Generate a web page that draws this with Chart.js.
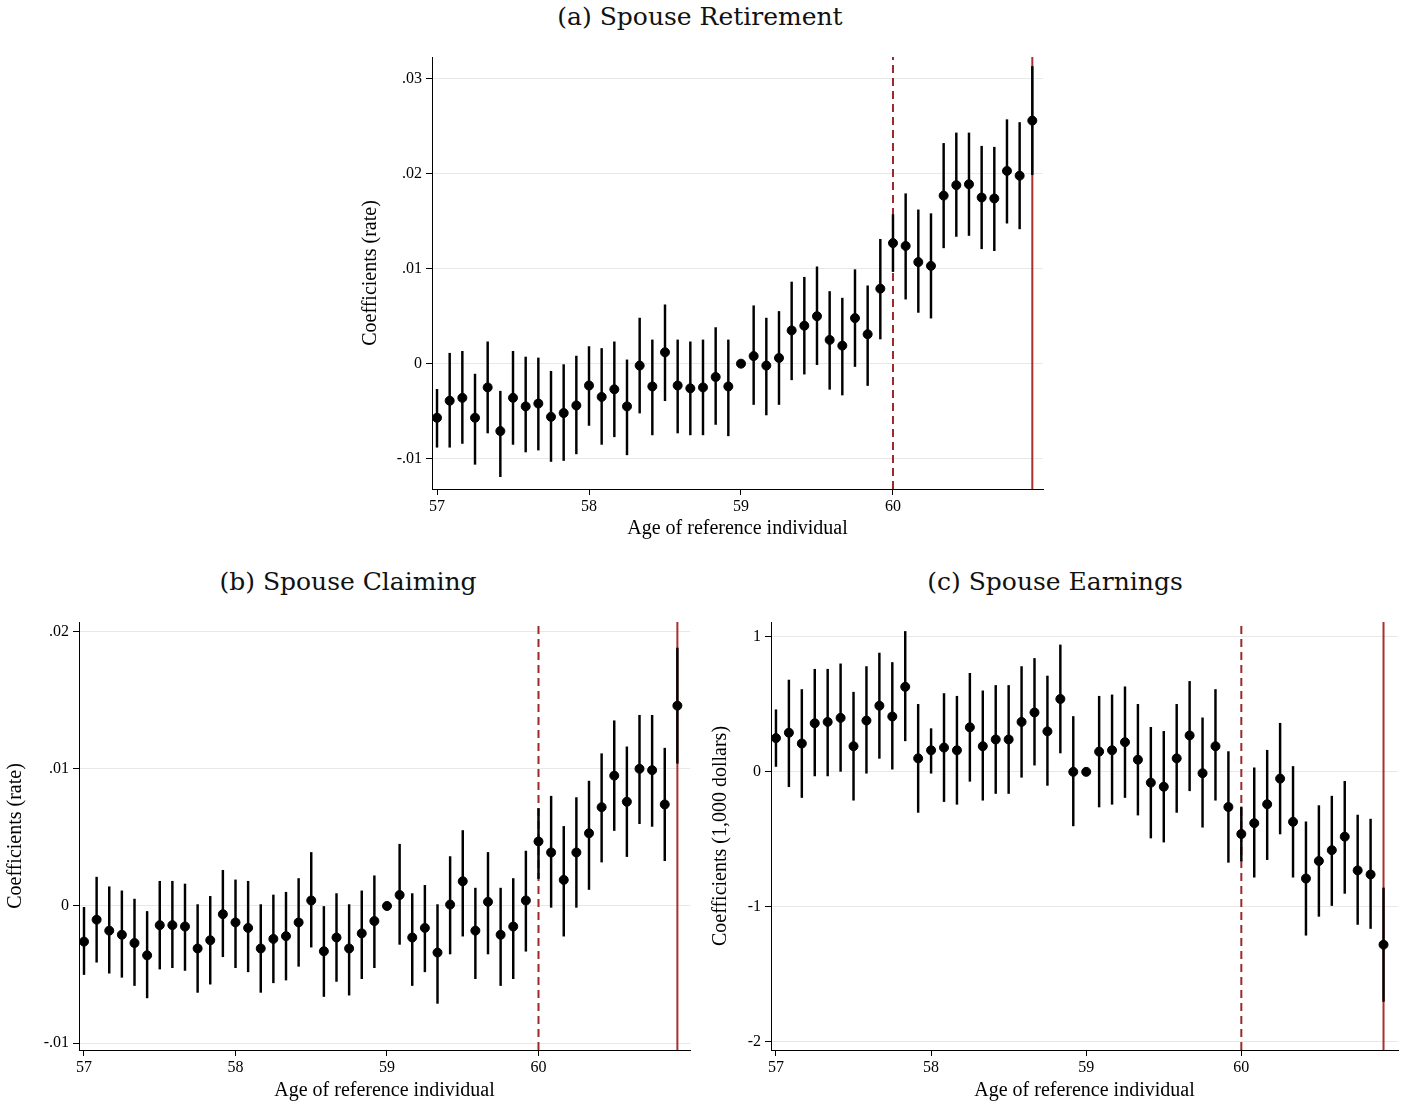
<!DOCTYPE html>
<html>
<head>
<meta charset="utf-8">
<script src="https://cdn.jsdelivr.net/npm/chart.js@4.4.1/dist/chart.umd.min.js"></script>
<style>
  body { margin: 0; background: #fff; width: 1408px; height: 1107px; position: relative; overflow: hidden; }
  .panel { position: absolute; }
  .title { position: absolute; font-family: 'DejaVu Serif', serif; font-size: 25px; color: #111; text-align: center; width: 600px; }
</style>
</head>
<body>
<div class="title" style="left:400px; top:2px;">(a) Spouse Retirement</div>
<div class="title" style="left:48px; top:567px;">(b) Spouse Claiming</div>
<div class="title" style="left:755px; top:567px;">(c) Spouse Earnings</div>
<div class="panel" style="left:355px; top:40px; width:700px; height:505px;"><canvas id="chartA"></canvas></div>
<div class="panel" style="left:0px; top:605px; width:700px; height:502px;"><canvas id="chartB"></canvas></div>
<div class="panel" style="left:705px; top:605px; width:703px; height:502px;"><canvas id="chartC"></canvas></div>
<script>
// Ages: monthly from 57 to 60 + 11/12
const ages = Array.from({ length: 48 }, (_, k) => 57 + k / 12);
const xTicks = [57, 58, 59, 60];

// (a) Spouse Retirement
const retireCoef = [-.0057,-.0039,-.0036,-.0057,-.0025,-.0071,-.0036,-.0045,-.0042,-.0056,-.0052,-.0044,
  -.0023,-.0035,-.0027,-.0045,-.0002,-.0024,.0012,-.0023,-.0026,-.0025,-.0014,-.0024,
  0,.0008,-.0002,.0006,.0035,.0040,.0050,.0025,.0019,.0048,.0031,.0079,
  .0127,.0124,.0107,.0103,.0177,.0188,.0189,.0175,.0174,.0203,.0198,.0256];
const retireHi = [-.0027,.0011,.0013,-.0011,.0023,-.0029,.0013,.0007,.0006,-.0008,-.0001,.0008,
  .0018,.0016,.0023,.0004,.0048,.0025,.0062,.0025,.0023,.0025,.0038,.0025,
  0,.0061,.0048,.0055,.0086,.0091,.0102,.0076,.0069,.0099,.0082,.0131,
  .0157,.0179,.0162,.0158,.0232,.0243,.0243,.0229,.0228,.0257,.0254,.0313];
const retireLo = [-.0088,-.0088,-.0084,-.0106,-.0073,-.0119,-.0085,-.0093,-.0091,-.0103,-.0102,-.0095,
  -.0065,-.0085,-.0077,-.0096,-.0052,-.0075,-.0039,-.0073,-.0075,-.0075,-.0064,-.0076,
  0,-.0043,-.0054,-.0043,-.0017,-.0011,-.0001,-.0027,-.0033,-.0003,-.0023,.0026,
  .0097,.0068,.0054,.0048,.0122,.0134,.0135,.0121,.0119,.0148,.0142,.0199];
const retireYTicks = [-.01, 0, .01, .02, .03];

// (b) Spouse Claiming
const claimCoef = [-.0026,-.0010,-.0018,-.0021,-.0027,-.0036,-.0014,-.0014,-.0015,-.0031,-.0025,-.0006,
  -.0012,-.0016,-.0031,-.0024,-.0022,-.0012,.0004,-.0033,-.0023,-.0031,-.0020,-.0011,
  0,.0008,-.0023,-.0016,-.0034,.0001,.0018,-.0018,.0003,-.0021,-.0015,.0004,
  .0047,.0039,.0019,.0039,.0053,.0072,.0095,.0076,.0100,.0099,.0074,.0146];
const claimHi = [-.0001,.0021,.0014,.0011,.0005,-.0004,.0018,.0018,.0016,.0001,.0007,.0026,
  .0019,.0018,.0001,.0008,.0010,.0020,.0039,0,.0009,.0001,.0011,.0022,
  0,.0045,.0009,.0015,.0001,.0036,.0055,.0013,.0039,.0013,.0020,.0040,
  .0071,.0080,.0058,.0079,.0091,.0111,.0135,.0116,.0139,.0139,.0115,.0188];
const claimLo = [-.0050,-.0041,-.0049,-.0052,-.0058,-.0067,-.0046,-.0045,-.0047,-.0063,-.0057,-.0037,
  -.0045,-.0048,-.0063,-.0056,-.0054,-.0044,-.0030,-.0066,-.0055,-.0065,-.0053,-.0045,
  0,-.0028,-.0058,-.0048,-.0071,-.0035,-.0022,-.0053,-.0035,-.0058,-.0053,-.0033,
  .0020,-.0001,-.0022,-.0001,.0012,.0032,.0055,.0036,.0060,.0058,.0033,.0104];
const claimYTicks = [-.01, 0, .01, .02];

// (c) Spouse Earnings (1,000 dollars)
const earnCoef = [.25,.29,.21,.36,.37,.40,.19,.38,.49,.41,.63,.10,
  .16,.18,.16,.33,.19,.24,.24,.37,.44,.30,.54,0,
  0,.15,.16,.22,.09,-.08,-.11,.10,.27,-.01,.19,-.26,
  -.46,-.38,-.24,-.05,-.37,-.79,-.66,-.58,-.48,-.73,-.76,-1.28];
const earnHi = [.46,.68,.61,.76,.76,.80,.59,.78,.88,.81,1.04,.50,
  .32,.58,.56,.73,.60,.64,.64,.78,.84,.71,.94,.41,
  0,.56,.57,.63,.50,.33,.30,.50,.67,.40,.61,.15,
  -.26,.03,.16,.36,.04,-.37,-.25,-.18,-.07,-.32,-.35,-.86];
const earnLo = [.04,-.11,-.19,-.03,-.03,0,-.21,-.01,.10,.02,.23,-.30,
  -.01,-.22,-.24,-.07,-.21,-.16,-.16,-.04,.05,-.10,.14,-.40,
  0,-.26,-.24,-.19,-.32,-.49,-.52,-.30,-.14,-.41,-.21,-.67,
  -.66,-.78,-.65,-.46,-.78,-1.21,-1.07,-.99,-.90,-1.13,-1.16,-1.70];
const earnYTicks = [-2, -1, 0, 1];

const eventAge = 60;
const lastAge = 57 + 47 / 12;

function fmtRate(v) {
  if (Math.abs(v) < 1e-9) return '0';
  return (v < 0 ? '-' : '') + Math.abs(v).toFixed(2).replace(/^0/, '');
}

function makePanel(id, opt) {
  const ctx = document.getElementById(id);
  const points = ages.map((a, i) => ({ x: a, y: opt.coef[i] }));
  const bars = ages.map((a, i) => ({ x: a, y: [opt.lo[i], opt.hi[i]] }));
  new Chart(ctx, {
    type: 'bar',
    data: {
      datasets: [
        { type: 'scatter', data: points, backgroundColor: '#000', borderColor: '#000', pointRadius: 4.5, order: 0 },
        { type: 'bar', data: bars, backgroundColor: '#000', barThickness: 1.8, grouped: false, order: 1 },
        { type: 'line', data: [{ x: eventAge, y: opt.ymin }, { x: eventAge, y: opt.ymax }], borderColor: '#9b2a2c',
          borderWidth: 2, borderDash: [8, 5], pointRadius: 0, order: 2 },
        { type: 'line', data: [{ x: lastAge, y: opt.ymin }, { x: lastAge, y: opt.ymax }], borderColor: '#a8302f',
          borderWidth: 2, pointRadius: 0, order: 2 }
      ]
    },
    options: {
      responsive: true,
      maintainAspectRatio: false,
      animation: false,
      layout: { padding: { top: 17, right: opt.padRight, left: 0, bottom: 0 } },
      plugins: { legend: { display: false }, tooltip: { enabled: false } },
      scales: {
        x: {
          type: 'linear', min: opt.xmin, max: opt.xmax, offset: false,
          afterBuildTicks: s => { s.ticks = xTicks.map(v => ({ value: v })); },
          afterFit: s => { s.height = opt.xHeight; },
          ticks: { color: '#000', font: { family: 'Liberation Serif', size: 16 }, padding: 2, callback: v => String(v) },
          grid: { drawOnChartArea: false, offset: false, tickLength: 6, tickColor: '#000' },
          border: { color: '#000' },
          title: { display: true, text: 'Age of reference individual', color: '#000',
            font: { family: 'Liberation Serif', size: 20 }, padding: { top: 0 } }
        },
        y: {
          min: opt.ymin, max: opt.ymax,
          afterBuildTicks: s => { s.ticks = opt.yTicks.map(v => ({ value: v })); },
          afterFit: s => { s.width = opt.yWidth; },
          ticks: { color: '#000', font: { family: 'Liberation Serif', size: 16 }, padding: 4, callback: opt.fmt },
          grid: { color: '#e8e8e8', tickLength: 6, tickColor: '#000' },
          border: { color: '#000' },
          title: { display: true, text: opt.yTitle, color: '#000',
            font: { family: 'Liberation Serif', size: 20 }, padding: { bottom: 2 } }
        }
      }
    }
  });
}

makePanel('chartA', { coef: retireCoef, lo: retireLo, hi: retireHi, yTicks: retireYTicks,
  ymin: -.0132, ymax: .0323, xmin: 56.967, xmax: 60.987, yWidth: 77, xHeight: 56, padRight: 12,
  fmt: fmtRate, yTitle: 'Coefficients (rate)' });
makePanel('chartB', { coef: claimCoef, lo: claimLo, hi: claimHi, yTicks: claimYTicks,
  ymin: -.0105, ymax: .0207, xmin: 56.967, xmax: 61.0, yWidth: 79, xHeight: 57, padRight: 10,
  fmt: fmtRate, yTitle: 'Coefficients (rate)' });
makePanel('chartC', { coef: earnCoef, lo: earnLo, hi: earnHi, yTicks: earnYTicks,
  ymin: -2.06, ymax: 1.11, xmin: 56.968, xmax: 61.01, yWidth: 66, xHeight: 57, padRight: 10,
  fmt: v => String(v), yTitle: 'Coefficients (1,000 dollars)' });
</script>
</body>
</html>
